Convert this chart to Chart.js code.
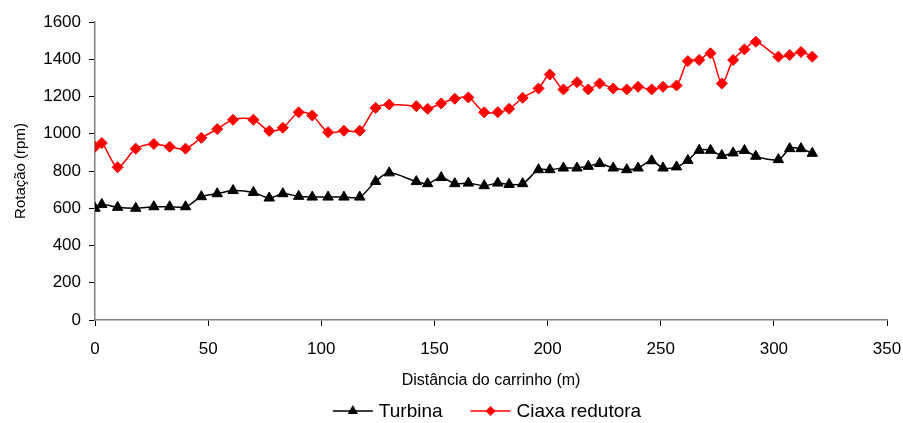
<!DOCTYPE html>
<html>
<head>
<meta charset="utf-8">
<script src="https://cdn.jsdelivr.net/npm/chart.js@4"></script>
<style>
  html, body { margin: 0; padding: 0; background: #fff; }
  #wrap { width: 903px; height: 423px; }
</style>
</head>
<body>
<div id="wrap"><canvas id="myChart"></canvas></div>
<script>
///////////////////////////// DATA /////////////////////////////

const distancia = [0, 3, 10, 18, 26, 33, 40, 47, 54, 61, 70, 77, 83, 90, 96, 103, 110, 117, 124, 130,
  142, 147, 153, 159, 165, 172, 178, 183, 189, 196, 201, 207, 213, 218, 223, 229, 235, 240, 246, 251,
  257, 262, 267, 272, 277, 282, 287, 292, 302, 307, 312, 317];

const turbina = [600, 620, 605, 600, 608, 608, 608, 662, 678, 695, 685, 655, 678, 664, 660, 660, 660, 660, 744, 790,
  743, 732, 765, 732, 735, 721, 735, 728, 732, 807, 807, 816, 816, 825, 840, 816, 807, 816, 855, 816,
  822, 857, 911, 911, 883, 897, 910, 879, 861, 920, 920, 895];

const redutora = [930, 950, 820, 920, 945, 930, 920, 978, 1025, 1075, 1075, 1015, 1032, 1115, 1098, 1008, 1016, 1016, 1139, 1157,
  1148, 1134, 1163, 1188, 1195, 1115, 1116, 1134, 1193, 1243, 1318, 1238, 1277, 1238, 1270, 1243, 1238, 1252, 1238, 1252,
  1259, 1390, 1396, 1432, 1270, 1396, 1453, 1494, 1414, 1423, 1439, 1414];

const yTicks = [0, 200, 400, 600, 800, 1000, 1200, 1400, 1600];
const xTicks = [0, 50, 100, 150, 200, 250, 300, 350];

const FONT = 'Liberation Sans, Arial, sans-serif';

///////////////////////////// HELPERS /////////////////////////////

function pts(ys) {
  return distancia.map((x, i) => ({ x: x, y: ys[i] }));
}

function marker(g, style, x, y, r) {
  g.beginPath();
  if (style === 'triangle') {
    g.moveTo(x, y - r);
    g.lineTo(x + r * 0.866, y + r / 2);
    g.lineTo(x - r * 0.866, y + r / 2);
  } else {
    g.moveTo(x, y - r); g.lineTo(x + r, y); g.lineTo(x, y + r); g.lineTo(x - r, y);
  }
  g.closePath();
  g.fill();
}

// excel style legend: short line with the marker in the middle, then the label
const lineLegend = {
  id: 'lineLegend',
  afterDraw(chart) {
    const g = chart.ctx;
    const area = chart.chartArea;
    g.save();
    g.font = '19px ' + FONT;
    g.textBaseline = 'middle';
    const lineLen = 40, gapText = 6, gapItem = 28;
    const items = chart.data.datasets.map(ds => ({ ds: ds, w: g.measureText(ds.label).width }));
    let total = 0;
    items.forEach((it, i) => { total += lineLen + gapText + it.w + (i ? gapItem : 0); });
    let x = (area.left + area.right) / 2 - 4 - total / 2;
    const y = chart.height - 12;
    items.forEach(it => {
      g.strokeStyle = it.ds.borderColor;
      g.fillStyle = it.ds.borderColor;
      g.lineWidth = 1.5;
      g.beginPath(); g.moveTo(x, y); g.lineTo(x + lineLen, y); g.stroke();
      marker(g, it.ds.pointStyle, x + lineLen / 2, y, it.ds.pointStyle === 'triangle' ? 6 : 5);
      g.fillStyle = '#000';
      g.fillText(it.ds.label, x + lineLen + gapText, y + 1);
      x += lineLen + gapText + it.w + gapItem;
    });
    g.restore();
  }
};

///////////////////////////// CHART /////////////////////////////

const ctx = document.getElementById('myChart').getContext('2d');

new Chart(ctx, {
  type: 'line',
  data: {
    datasets: [{
      label: 'Turbina',
      data: pts(turbina),
      borderColor: '#000000',
      backgroundColor: '#000000',
      borderWidth: 1.5,
      pointStyle: 'triangle',
      pointRadius: 6,
      pointBorderWidth: 1,
      tension: 0.3
    }, {
      label: 'Ciaxa redutora',
      data: pts(redutora),
      borderColor: '#FF0000',
      backgroundColor: '#FF0000',
      borderWidth: 1.5,
      pointStyle: 'rectRot',
      pointRadius: 5.5,
      pointBorderWidth: 1,
      tension: 0.3
    }]
  },
  plugins: [lineLegend],
  options: {
    responsive: true,
    maintainAspectRatio: false,
    animation: false,
    layout: { padding: { left: 0, right: 16, top: 22, bottom: 0 } },
    plugins: {
      tooltip: { enabled: false },
      legend: { display: false }
    },
    scales: {
      x: {
        type: 'linear',
        min: 0, max: 350,
        afterBuildTicks: s => { s.ticks = xTicks.map(v => ({ value: v })); },
        afterFit: s => { s.height = 103; s.paddingLeft = 0; s.paddingRight = 0; },
        grid: { drawOnChartArea: false, tickLength: 6, color: '#000' },
        border: { color: '#808080', width: 1.5 },
        ticks: {
          color: '#000', padding: 13,
          font: { family: FONT, size: 17 }
        },
        title: {
          display: true, text: 'Distância do carrinho (m)', color: '#000',
          font: { family: FONT, size: 16 },
          padding: { top: 4, bottom: 33 }
        }
      },
      y: {
        min: 0, max: 1600,
        afterBuildTicks: s => { s.ticks = yTicks.map(v => ({ value: v })); },
        afterFit: s => { s.width = 95; },
        grid: { drawOnChartArea: false, tickLength: 6, color: '#000' },
        border: { color: '#808080', width: 1.5 },
        ticks: {
          color: '#000', padding: 8,
          font: { family: FONT, size: 17 },
          callback: v => String(v)
        },
        title: {
          display: true, text: 'Rotação (rpm)', color: '#000',
          font: { family: FONT, size: 15 },
          padding: { top: 12, bottom: 0 }
        }
      }
    }
  }
});
</script>
</body>
</html>
